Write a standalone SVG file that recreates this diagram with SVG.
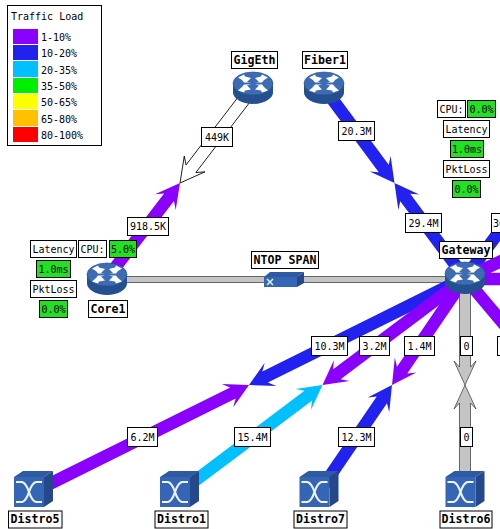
<svg xmlns="http://www.w3.org/2000/svg" xmlns:xlink="http://www.w3.org/1999/xlink" width="500" height="529" viewBox="0 0 500 529">
<style>
text{font-family:"DejaVu Sans Mono","Liberation Mono",monospace;font-size:10px;fill:#000}
.c{text-anchor:middle}
.b{font-weight:bold;font-size:11.6px;text-anchor:middle}
.box{fill:#fff;stroke:#000;stroke-width:1}
.ok{fill:#22e022;stroke:#000;stroke-width:1}
.p{fill:#8a00ff}.u{fill:#2222f0}.y{fill:#00c0ff}
.g{fill:#c4c4c4;stroke:#333;stroke-width:.7}
.w{fill:#fff;stroke:#000;stroke-width:.8}
</style>
<defs>
<g id="router">
<path d="M-20 0V9C-20 15-11 20.500 0 20.500S20 15 20 9V0Z" fill="#24508f"/>
<ellipse cx="0" cy="0" rx="20" ry="11.500" fill="#3d6cb4" stroke="#24508f" stroke-width=".6"/>
<g fill="#fff">
<polygon points="-15,-6 -9,-9 -8,-7 -2,-5.500 -6,-1.500 -2,-1 -9,-1 -11,-3.500"/>
<polygon points="15,-6 9,-9 8,-7 2,-5.500 6,-1.500 2,-1 9,-1 11,-3.500"/>
<polygon points="-15,7 -9,9 -8,7 -2,6 -6,2 -2,1 -9,1 -11,3.500"/>
<polygon points="15,7 9,9 8,7 2,6 6,2 2,1 9,1 11,3.500"/>
</g>
</g>
<g id="switch">
<polygon points="0,0 9,-6 39,-6 30,0" fill="#2d5aa2"/>
<polygon points="30,0 39,-6 39,24 30,30" fill="#24488a"/>
<rect x="0" y="0" width="30" height="30" fill="#3565b5"/>
<g fill="none" stroke="#eef3ff" stroke-width="2.200">
<path d="M2 5H8Q12 6 15 15Q18 6 22 5H28"/>
<path d="M2 25H8Q12 24 15 15Q18 24 22 25H28"/>
</g>
</g>
</defs>

<g id="legend">
<rect class="box" x="7.500" y="5.500" width="94" height="140"/>
<text x="11" y="20">Traffic Load</text>
<rect x="13" y="29" width="25" height="15" fill="#8a00ff"/><text x="41" y="41">1-10%</text>
<rect x="13" y="45" width="25" height="15" fill="#2222f0"/><text x="41" y="57">10-20%</text>
<rect x="13" y="61" width="25" height="16" fill="#00c0ff"/><text x="41" y="74">20-35%</text>
<rect x="13" y="78" width="25" height="15" fill="#00ee00"/><text x="41" y="90">35-50%</text>
<rect x="13" y="94" width="25" height="15" fill="#ffff00"/><text x="41" y="106">50-65%</text>
<rect x="13" y="110" width="25" height="16" fill="#ffc000"/><text x="41" y="123">65-80%</text>
<rect x="13" y="127" width="25" height="15" fill="#ff0000"/><text x="41" y="139">80-100%</text>
</g>

<g id="connectors">
<rect class="g" x="107" y="276.500" width="358" height="6"/>
<polygon class="u" transform="translate(394.500 183) rotate(53.400)" points="0,0 -24,-13 -18,-6.200 -118,-6.200 -118,6.200 -18,6.200 -24,13"/>
<polygon class="u" transform="translate(394.500 183) rotate(233.400)" points="0,0 -24,-13 -18,-6.200 -118,-6.200 -118,6.200 -18,6.200 -24,13"/>
<polygon class="w" transform="translate(180 183) rotate(127.500)" points="0,0 -24,-13 -18,-6.200 -120,-6.200 -120,6.200 -18,6.200 -24,13"/>
<polygon class="p" transform="translate(180 183) rotate(-52.500)" points="0,0 -24,-13 -18,-6.200 -120,-6.200 -120,6.200 -18,6.200 -24,13"/>
<polygon class="u" transform="translate(249 385) rotate(153.600)" points="0,0 -24,-13 -18,-6.200 -241,-6.200 -241,6.200 -18,6.200 -24,13"/>
<polygon class="p" transform="translate(249 385) rotate(-26.400)" points="0,0 -24,-13 -18,-6.200 -241,-6.200 -241,6.200 -18,6.200 -24,13"/>
<polygon class="p" transform="translate(322.500 385) rotate(143.100)" points="0,0 -24,-13 -18,-6.200 -178,-6.200 -178,6.200 -18,6.200 -24,13"/>
<polygon class="y" transform="translate(322.500 385) rotate(-36.900)" points="0,0 -24,-13 -18,-6.200 -178,-6.200 -178,6.200 -18,6.200 -24,13"/>
<polygon class="p" transform="translate(392 385) rotate(124.300)" points="0,0 -24,-13 -18,-6.200 -130,-6.200 -130,6.200 -18,6.200 -24,13"/>
<polygon class="u" transform="translate(392 385) rotate(-55.700)" points="0,0 -24,-13 -18,-6.200 -130,-6.200 -130,6.200 -18,6.200 -24,13"/>
<polygon class="g" transform="translate(465 385) rotate(90)" points="0,0 -24,-11 -18,-5.500 -107,-5.500 -107,5.500 -18,5.500 -24,11"/>
<polygon class="g" transform="translate(465 385) rotate(-90)" points="0,0 -24,-11 -18,-5.500 -107,-5.500 -107,5.500 -18,5.500 -24,11"/>
<polygon class="u" transform="translate(465 278) rotate(-53.600)" points="0,-6.200 100,-6.200 100,6.200 0,6.200"/>
<polygon class="p" transform="translate(465 278) rotate(-25)" points="0,-6.200 100,-6.200 100,6.200 0,6.200"/>
<polygon class="p" transform="translate(465 279)" points="0,-6.200 100,-6.200 100,6.200 0,6.200"/>
<polygon class="p" transform="translate(465 278) rotate(50)" points="0,-6.200 100,-6.200 100,6.200 0,6.200"/>
</g>

<g id="link-labels">
<rect class="box" x="201.500" y="127.500" width="31" height="19"/><text class="c" x="217" y="141">449K</text>
<rect class="box" x="127.500" y="217.500" width="41" height="18"/><text class="c" x="148" y="230">918.5K</text>
<rect class="box" x="338.500" y="121.500" width="36" height="19"/><text class="c" x="356.500" y="135">20.3M</text>
<rect class="box" x="405.500" y="213.500" width="36" height="19"/><text class="c" x="423.500" y="227">29.4M</text>
<rect class="box" x="491.500" y="213.500" width="36" height="19"/><text x="493" y="227">30</text>
<rect class="box" x="311.500" y="336.500" width="36" height="19"/><text class="c" x="329.500" y="350">10.3M</text>
<rect class="box" x="359.500" y="336.500" width="30" height="19"/><text class="c" x="374.500" y="350">3.2M</text>
<rect class="box" x="404.500" y="336.500" width="30" height="19"/><text class="c" x="419.500" y="350">1.4M</text>
<rect class="box" x="460.500" y="336.500" width="12" height="19"/><text class="c" x="466.500" y="350">0</text>
<rect class="box" x="497.500" y="336.500" width="30" height="19"/>
<rect class="box" x="127.500" y="427.500" width="30" height="19"/><text class="c" x="142.500" y="441">6.2M</text>
<rect class="box" x="234.500" y="427.500" width="36" height="19"/><text class="c" x="252.500" y="441">15.4M</text>
<rect class="box" x="338.500" y="427.500" width="36" height="19"/><text class="c" x="356.500" y="441">12.3M</text>
<rect class="box" x="460.500" y="427.500" width="12" height="19"/><text class="c" x="466.500" y="441">0</text>
</g>

<g id="ntop-span">
<polygon points="264,277 270,272 304,272 297,277" fill="#2d5aa2"/>
<polygon points="297,277 304,272 304,283 297,287" fill="#24488a"/>
<rect x="264" y="277" width="33" height="10" fill="#3565b5"/>
<path d="M267 279L273 285M273 279L267 285" stroke="#e8f0ff" stroke-width="1.500" fill="none"/>
<rect class="box" x="251.500" y="251.500" width="67" height="17"/><text class="b" x="285" y="263.500">NTOP SPAN</text>
</g>

<g id="gigeth">
<use href="#router" x="253" y="83.500"/>
<rect class="box" x="231.500" y="51.500" width="46" height="17"/><text class="b" x="254.500" y="63.500">GigEth</text>
</g>
<g id="fiber1">
<use href="#router" x="324" y="83.500"/>
<rect class="box" x="302.500" y="51.500" width="45" height="17"/><text class="b" x="325" y="63.500">Fiber1</text>
</g>
<g id="core1">
<use href="#router" x="107" y="274.500"/>
<rect class="box" x="88.500" y="300.500" width="39" height="17"/><text class="b" x="108" y="312.500">Core1</text>
<rect class="box" x="30.500" y="240.500" width="46" height="17"/><text class="c" x="53.500" y="252.500">Latency</text>
<rect class="box" x="78.500" y="240.500" width="28" height="17"/><text class="c" x="92.500" y="252.500">CPU:</text>
<rect class="ok" x="109.500" y="240.500" width="27" height="17"/><text class="c" x="123" y="252.500">5.0%</text>
<rect class="ok" x="36.500" y="260.500" width="34" height="17"/><text class="c" x="53.500" y="272.500">1.0ms</text>
<rect class="box" x="30.500" y="280.500" width="46" height="17"/><text class="c" x="53.500" y="292.500">PktLoss</text>
<rect class="ok" x="39.500" y="300.500" width="28" height="17"/><text class="c" x="53.500" y="312.500">0.0%</text>
</g>
<g id="gateway">
<rect class="box" x="439.500" y="241.500" width="53" height="17"/><text class="b" x="466" y="253.500">Gateway</text>
<use href="#router" x="465" y="273.500"/>
<rect class="box" x="437.500" y="100.500" width="28" height="17"/><text class="c" x="451.500" y="112.500">CPU:</text>
<rect class="ok" x="467.500" y="100.500" width="28" height="17"/><text class="c" x="481.500" y="112.500">0.0%</text>
<rect class="box" x="443.500" y="120.500" width="46" height="17"/><text class="c" x="466.500" y="132.500">Latency</text>
<rect class="ok" x="450.500" y="140.500" width="33" height="17"/><text class="c" x="467" y="152.500">1.0ms</text>
<rect class="box" x="443.500" y="160.500" width="46" height="17"/><text class="c" x="466.500" y="172.500">PktLoss</text>
<rect class="ok" x="452.500" y="180.500" width="28" height="17"/><text class="c" x="466.500" y="192.500">0.0%</text>
</g>
<g id="distro5">
<use href="#switch" x="14" y="477"/>
<rect class="box" x="8.500" y="511" width="53.500" height="17"/><text class="b" x="35" y="523">Distro5</text>
</g>
<g id="distro1">
<use href="#switch" x="160" y="477"/>
<rect class="box" x="155" y="511" width="53" height="17"/><text class="b" x="181.500" y="523">Distro1</text>
</g>
<g id="distro7">
<use href="#switch" x="299.500" y="477"/>
<rect class="box" x="294" y="511" width="53" height="17"/><text class="b" x="320.500" y="523">Distro7</text>
</g>
<g id="distro6">
<use href="#switch" x="445.500" y="477"/>
<rect class="box" x="440" y="511" width="52" height="17"/><text class="b" x="466" y="523">Distro6</text>
</g>
</svg>
